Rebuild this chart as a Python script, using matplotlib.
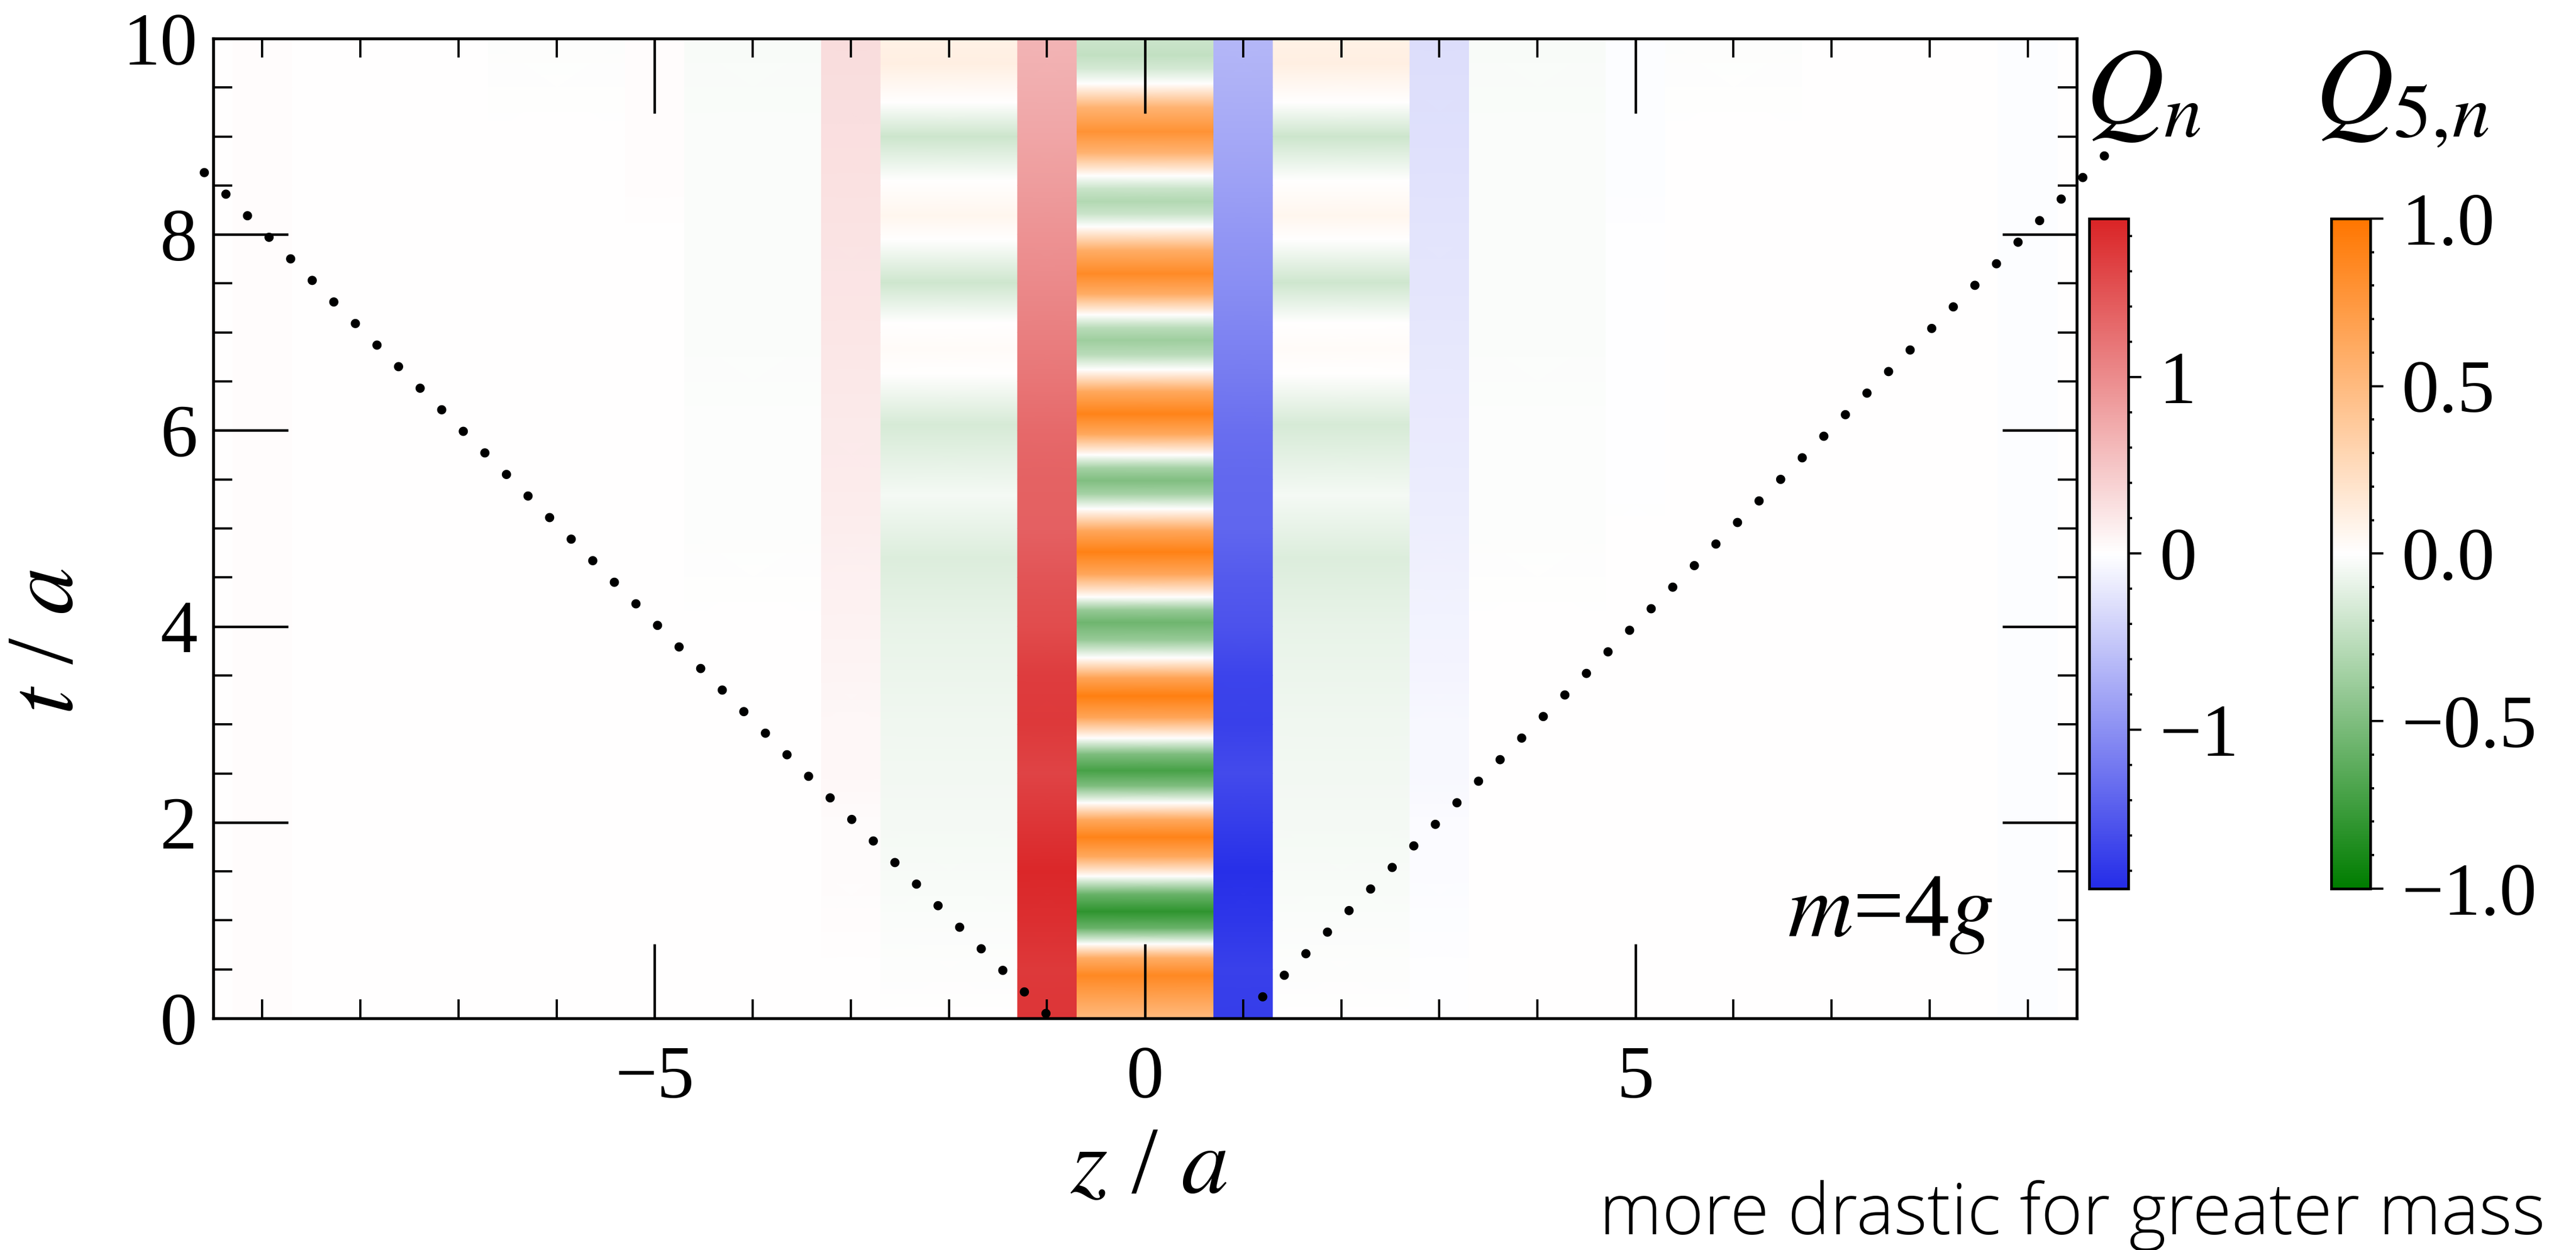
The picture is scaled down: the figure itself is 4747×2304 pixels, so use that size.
import matplotlib
matplotlib.use("Agg")
import matplotlib.pyplot as plt
import numpy as np
from matplotlib import ticker
from matplotlib.colors import LinearSegmentedColormap, Normalize
from matplotlib.cm import ScalarMappable

plt.rcParams['font.family'] = ['Liberation Serif', 'DejaVu Serif']
plt.rcParams['mathtext.fontset'] = 'stix'

# ---- data ----
# Q_n on the odd sites (narrow columns), regular time grid
t_q = [0, 0.5, 1, 1.5, 2, 2.5, 3, 3.5, 4, 4.5, 5, 5.5, 6, 6.5, 7, 7.5, 8, 8.5, 9, 9.5, 10]
q_m1 = [1.75, 1.72, 1.8, 1.87, 1.75, 1.62, 1.72, 1.68, 1.55, 1.48, 1.38, 1.36, 1.3, 1.2,
        1.1, 1.02, 0.94, 0.86, 0.78, 0.7, 0.64]
q_p1 = [-1.75, -1.72, -1.8, -1.87, -1.75, -1.62, -1.72, -1.68, -1.55, -1.48, -1.38, -1.36,
        -1.3, -1.2, -1.1, -1.02, -0.94, -0.86, -0.78, -0.7, -0.64]
q_m3 = [0.01, 0.01, 0.02, 0.03, 0.04, 0.06, 0.07, 0.09, 0.11, 0.13, 0.15, 0.17, 0.19, 0.2,
        0.22, 0.23, 0.25, 0.26, 0.28, 0.29, 0.3]
q_p3 = [-0.01, -0.01, -0.02, -0.03, -0.04, -0.06, -0.07, -0.09, -0.11, -0.13, -0.15, -0.17,
        -0.19, -0.2, -0.22, -0.23, -0.25, -0.26, -0.28, -0.29, -0.3]
q_m5 = [0, 0, 0, 0, 0, 0, 0, 0, 0, 0, 0, 0.01, 0.01, 0.01, 0.01, 0.01, 0.01, 0.02, 0.02, 0.02, 0.02]
q_p5 = [0, 0, 0, 0, 0, 0, 0, 0, 0, 0, 0, -0.01, -0.01, -0.01, -0.01, -0.01, -0.01, -0.02, -0.02, -0.02, -0.02]
q_m7 = [0] * 21
q_p7 = [0] * 21
q_m9 = [0.02] * 21
q_p9 = [-0.02] * 21

# Q_{5,n} on the even sites (wide columns)
t_q5_0 = [0.00, 0.44, 0.62, 0.76, 0.92, 1.09, 1.27, 1.45, 1.65, 1.85, 2.03, 2.20, 2.37, 2.53,
          2.70, 2.86, 3.07, 3.29, 3.48, 3.68, 3.86, 4.04, 4.17, 4.30, 4.53, 4.76, 4.98, 5.20,
          5.35, 5.49, 5.62, 5.75, 5.96, 6.17, 6.40, 6.62, 6.77, 6.92, 7.05, 7.18, 7.39, 7.60,
          7.84, 8.08, 8.21, 8.34, 8.47, 8.60, 8.83, 9.05, 9.30, 9.54, 9.69, 9.83, 10.0]
q5_0 = [0.50, 0.86, 0.60, 0, -0.58, -0.82, -0.58, 0, 0.63, 0.90, 0.63, 0, -0.50, -0.72,
        -0.50, 0, 0.65, 0.93, 0.65, 0, -0.40, -0.57, -0.40, 0, 0.64, 0.92, 0.64, 0,
        -0.35, -0.50, -0.35, 0, 0.63, 0.90, 0.63, 0, -0.27, -0.38, -0.27, 0, 0.60, 0.85,
        0.60, 0, -0.21, -0.30, -0.21, 0, 0.55, 0.79, 0.55, 0, -0.17, -0.24, -0.20]
t_q5_2 = [0, 1.0, 2.0, 3.0, 4.0, 4.70, 5.34, 6.06, 6.58, 6.83, 7.10, 7.51, 7.95, 8.19, 8.55,
          9.00, 9.35, 9.74, 10.0]
q5_2 = [0.0, -0.02, -0.04, -0.06, -0.09, -0.14, -0.04, -0.16, 0, 0.03, 0, -0.19, 0, 0.07, 0,
        -0.2, 0, 0.11, 0.1]
t_q5_far = [0, 4, 5, 6, 7, 8, 9, 10]
q5_4 = [0, 0, -0.01, -0.01, -0.02, -0.02, -0.02, -0.03]
q5_6 = [0, 0, 0, 0, 0, 0, 0, -0.01]
q5_8 = [0, 0, 0, 0, 0, 0, 0, 0]
q5_10 = [0, 0, 0, 0, 0, 0, 0, 0]

q_sites = [-9, -7, -5, -3, -1, 1, 3, 5, 7, 9]
q_cols = [q_m9, q_m7, q_m5, q_m3, q_m1, q_p1, q_p3, q_p5, q_p7, q_p9]
q5_sites = [-10, -8, -6, -4, -2, 0, 2, 4, 6, 8, 10]
q5_times = [t_q5_far, t_q5_far, t_q5_far, t_q5_far, t_q5_2, t_q5_0, t_q5_2,
            t_q5_far, t_q5_far, t_q5_far, t_q5_far]
q5_cols = [q5_10, q5_8, q5_6, q5_4, q5_2, q5_0, q5_2, q5_4, q5_6, q5_8, q5_10]

# light cone (dotted)
cone_left_z = [-1.01, -9.8]
cone_left_t = [0.05, 8.84]
cone_right_z = [1.20, 9.8]
cone_right_t = [0.22, 8.82]

xticks = [-5, 0, 5]
yticks = [0, 2, 4, 6, 8, 10]
q_ticks = [-1, 0, 1]
q5_ticks = [-1.0, -0.5, 0.0, 0.5, 1.0]
q5_labels = ['\u22121.0', '\u22120.5', '0.0', '0.5', '1.0']

# ---- colour maps ----
cmap_q = LinearSegmentedColormap.from_list('q', ['#242CE8', '#FFFFFF', '#DA2426'])
cmap_q5 = LinearSegmentedColormap.from_list('q5', ['#007D00', '#FFFFFF', '#FF7600'])
norm_q = Normalize(-1.9, 1.9)
norm_q5 = Normalize(-1.0, 1.0)

fig = plt.figure(figsize=(4747 / 300, 2304 / 300), dpi=300)
ax = fig.add_axes([0.0828, 0.1853, 0.7234, 0.7839])


def column(ax, zc, hw, t, v, cmap, norm):
    t = np.asarray(t, float)
    v = np.asarray(v, float)
    Z = np.column_stack([np.full(len(t), zc - hw), np.full(len(t), zc + hw)])
    T = np.column_stack([t, t])
    C = np.column_stack([v, v])
    ax.pcolormesh(Z, T, C, shading='gouraud', cmap=cmap, norm=norm, zorder=1)


for zc, t, v in zip(q5_sites, q5_times, q5_cols):
    column(ax, zc, 0.7, t, v, cmap_q5, norm_q5)
for zc, v in zip(q_sites, q_cols):
    column(ax, zc, 0.3, t_q, v, cmap_q, norm_q)

for zz, tt in [(cone_left_z, cone_left_t), (cone_right_z, cone_right_t)]:
    ax.plot(zz, tt, color='black', lw=4.1, linestyle=(0, (0.001, 3.29)),
            dash_capstyle='round', clip_on=False, zorder=5)

ax.set_xlim(-9.5, 9.5)
ax.set_ylim(0, 10)
ax.set_xticks(xticks)
ax.set_yticks(yticks)
ax.xaxis.set_minor_locator(ticker.MultipleLocator(1))
ax.yaxis.set_minor_locator(ticker.MultipleLocator(0.5))
ax.tick_params(which='both', direction='in', top=True, right=True, labelsize=33)
ax.tick_params(which='major', length=33, width=1.1)
ax.tick_params(which='minor', length=8.5, width=1.0)
ax.tick_params(axis='x', pad=12)
ax.tick_params(axis='y', pad=7)
for s in ax.spines.values():
    s.set_linewidth(1.3)
    s.set_zorder(6)

ax.text(0.502, -0.154, r'$z$ / $a$', transform=ax.transAxes, fontsize=42,
        ha='center', va='center')
ax.text(-0.088, 0.385, r'$t$ / $a$', transform=ax.transAxes, fontsize=42,
        ha='center', va='center', rotation=90)
ax.text(8.64, 0.84, r'$m$=4$g$', fontsize=40, ha='right', va='baseline', zorder=7)

# ---- colour bars ----
cax_q = fig.add_axes([0.8110, 0.2891, 0.01517, 0.536])
cb_q = fig.colorbar(ScalarMappable(norm=norm_q, cmap=cmap_q), cax=cax_q)
cb_q.set_ticks(q_ticks)
cax_q.yaxis.set_minor_locator(ticker.MultipleLocator(0.2))

cax_q5 = fig.add_axes([0.9050, 0.2891, 0.01517, 0.536])
cb_q5 = fig.colorbar(ScalarMappable(norm=norm_q5, cmap=cmap_q5), cax=cax_q5)
cb_q5.set_ticks(q5_ticks)
cb_q5.set_ticklabels(q5_labels)
cax_q5.yaxis.set_minor_locator(ticker.MultipleLocator(0.1))

for cb in (cb_q, cb_q5):
    cb.outline.set_linewidth(1.2)
    cb.ax.tick_params(which='both', direction='out', width=1.0, labelsize=33, pad=8)
    cb.ax.tick_params(which='major', length=5.8)
    cb.ax.tick_params(which='minor', length=1.7)

fig.text(0.8096, 0.9019, r'$Q_n$', fontsize=48, ha='left', va='baseline')
fig.text(0.8987, 0.9019, r'$Q_{5,\!n}$', fontsize=48, ha='left', va='baseline')

fig.text(0.6208, 0.0126, 'more drastic for greater mass', fontsize=31.5,
         family=['Open Sans', 'DejaVu Sans'], weight='light', ha='left', va='baseline')

fig.savefig('out.png', dpi=300)
